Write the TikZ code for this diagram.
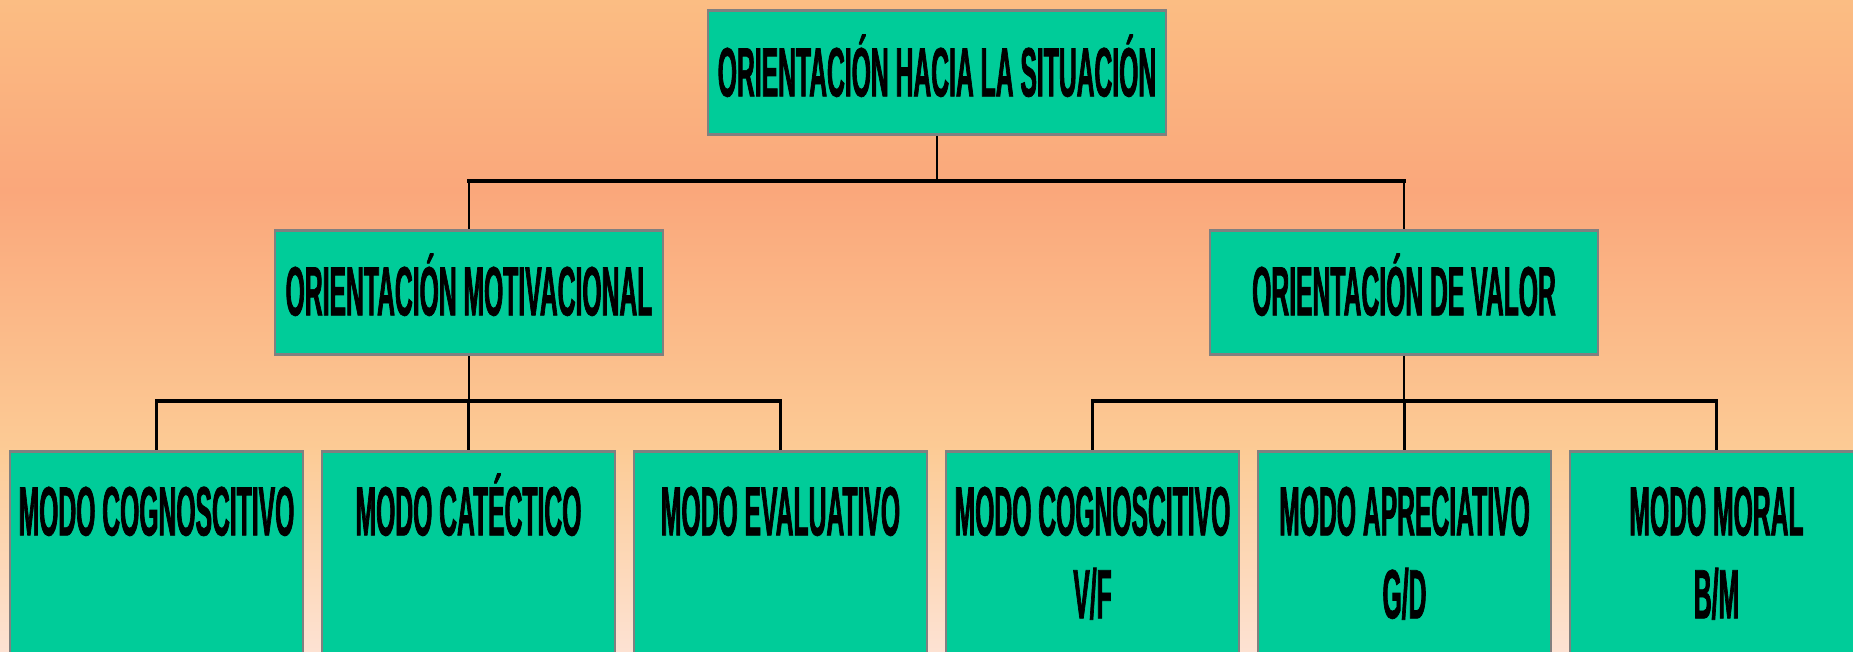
\documentclass[tikz,border=0pt]{standalone}
\usepackage{fontspec}
\newfontfamily\nf[FakeStretch=0.354,FakeBold=1.0]{Liberation Sans}
\newcommand{\mytwo}[2]{\begin{tabular}[t]{@{}c@{}}#1\\#2\end{tabular}}
\definecolor{bgA}{HTML}{FBBD83}
\definecolor{bgB}{HTML}{FAA77B}
\definecolor{bgC}{HTML}{FCCB95}
\definecolor{bgD}{HTML}{FDE2D3}
\definecolor{boxfill}{HTML}{00CC99}
\definecolor{boxgray}{HTML}{808080}
\begin{document}
\begin{tikzpicture}[x=0.02cm,y=-0.02cm,
  box/.style={draw=boxgray, line width=1.6pt, fill=boxfill, inner sep=0pt,
    font=\nf\bfseries\fontsize{39.7}{47.2}\selectfont, text=black},
  topbox/.style={box, minimum width=9.16cm, text height=1.72cm, text depth=0.76cm, anchor=north},
  midbox/.style={box, minimum width=7.76cm, text height=1.70cm, text depth=0.78cm, anchor=north},
  lowbox/.style={box, minimum width=5.86cm, text height=1.68cm, text depth=3.72cm, anchor=north},
  vline/.style={draw=black, line width=1.2pt},
  hline/.style={draw=black, line width=2pt, line cap=rect}]
\useasboundingbox (0,0) rectangle (1853,652);
\shade[top color=bgA, bottom color=bgB] (0,0) rectangle (1853,191);
\shade[top color=bgB, bottom color=bgC] (0,190) rectangle (1853,451);
\shade[top color=bgC, bottom color=bgD] (0,450) rectangle (1853,652);
% nodes
\node[topbox] (top) at (937,9) {ORIENTACIÓN HACIA LA SITUACIÓN};
\node[midbox] (mL) at (469,229) {ORIENTACIÓN MOTIVACIONAL};
\node[midbox] (mR) at (1404,229) {ORIENTACIÓN DE VALOR};
\node[lowbox] (b1) at (156.5,450) {\mytwo{MODO COGNOSCITIVO}{}};
\node[lowbox] (b2) at (468.5,450) {\mytwo{MODO CATÉCTICO}{}};
\node[lowbox] (b3) at (780.5,450) {\mytwo{MODO EVALUATIVO}{}};
\node[lowbox] (b4) at (1092.5,450) {\mytwo{MODO COGNOSCITIVO}{V/F}};
\node[lowbox] (b5) at (1404.5,450) {\mytwo{MODO APRECIATIVO}{G/D}};
\node[lowbox] (b6) at (1716.5,450) {\mytwo{MODO MORAL}{B/M}};
% buses
\coordinate (busT) at (937,181);
\coordinate (busL) at (469,401);
\coordinate (busR) at (1404,401);
% connectors
\draw[vline] (top.south) -- (top.south |- busT);
\draw[vline] (mL.north |- busT) -- (mL.north);
\draw[vline] (mR.north |- busT) -- (mR.north);
\draw[hline] (mL.north |- busT) -- (mR.north |- busT);
\draw[vline] (mL.south) -- (mL.south |- busL);
\draw[vline] (b1.north |- busL) -- (b1.north);
\draw[vline] (b2.north |- busL) -- (b2.north);
\draw[vline] (b3.north |- busL) -- (b3.north);
\draw[hline] (b1.north |- busL) -- (b3.north |- busL);
\draw[vline] (mR.south) -- (mR.south |- busR);
\draw[vline] (b4.north |- busR) -- (b4.north);
\draw[vline] (b5.north |- busR) -- (b5.north);
\draw[vline] (b6.north |- busR) -- (b6.north);
\draw[hline] (b4.north |- busR) -- (b6.north |- busR);
\end{tikzpicture}
\end{document}
